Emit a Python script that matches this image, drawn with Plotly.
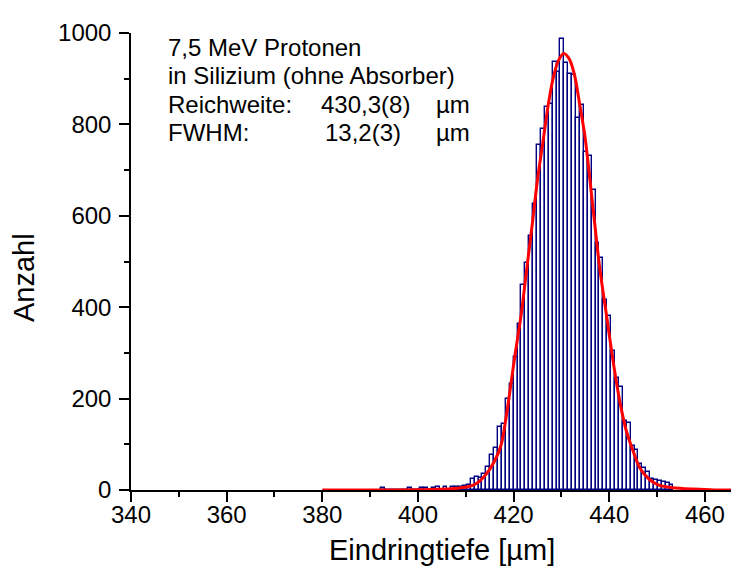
import plotly.graph_objects as go

# ---- histogram data ----
BIN_WIDTH = 0.815          # µm
FIRST_BIN_CENTER = 392.71  # µm
COUNTS = [
    4, 0, 0, 0, 0, 0, 0, 4, 0, 0,
    5, 5, 0, 5, 6, 0, 6, 0, 7, 7,
    6, 8, 10, 23, 29, 27, 35, 51, 77, 93,
    137, 145, 199, 231, 290, 363, 448, 497, 555, 626,
    754, 791, 838, 845, 936, 915, 986, 935, 911, 908,
    815, 842, 739, 730, 657, 540, 508, 416, 380, 305,
    245, 225, 150, 147, 96, 88, 57, 48, 39, 23,
    22, 19, 17, 15, 12,
]
BIN_CENTERS = [round(FIRST_BIN_CENTER + i * BIN_WIDTH, 3) for i in range(len(COUNTS))]

# ---- fit curve ----
FIT_X = [380, 390, 400, 404, 407, 409.8, 411.9, 413.9, 416.0, 417.4, 418.8,
         420.2, 421.6, 422.6, 424.0, 425.0, 426.1, 427.2, 428.2, 429.3, 430.5,
         431.7, 432.8, 433.8, 434.9, 436.6, 438.0, 439.4, 440.8, 442.2, 443.6,
         445.0, 446.4, 448.4, 450.5, 453.3, 457.5, 462, 470]
FIT_Y = [0, 0, 0.5, 1.5, 3, 6, 12, 30, 63, 99, 185,
         289, 385, 471, 590, 680, 759, 840, 898, 938, 955,
         942, 905, 845, 775, 617, 486, 384, 282, 194, 128,
         85, 48, 23, 10, 5, 2, 0, 0]

X_TICKS = [340, 360, 380, 400, 420, 440, 460]
Y_TICKS = [0, 200, 400, 600, 800, 1000]

INFO_LINES = [
    ("7,5 MeV Protonen", None, None),
    ("in Silizium (ohne Absorber)", None, None),
    ("Reichweite:", "430,3(8)", "µm"),
    ("FWHM:", "13,2(3)", "µm"),
]

FONT = "Liberation Sans, Arial, sans-serif"

W, H = 739, 567
ML, MR, MT, MB = 123, 0, 25, 85
PW, PH = W - ML - MR, H - MT - MB


def px_to_paper(xp, yp):
    return (xp - ML) / PW, (H - MB - yp) / PH


fig = go.Figure()
fig.add_trace(go.Bar(
    x=BIN_CENTERS, y=COUNTS, width=BIN_WIDTH,
    marker=dict(color="white", line=dict(color="#000080", width=1.4)),
    showlegend=False, hoverinfo="x+y",
))
fig.add_trace(go.Scatter(
    x=FIT_X, y=FIT_Y, mode="lines",
    line=dict(color="#ff0000", width=3, shape="spline", smoothing=0.8),
    showlegend=False,
))

annotations = []
col_x = [158, 311, 426]
col_x2 = [158, 315, 426]
baselines = [55, 83.3, 111.7, 140]
for i, (a, b, c) in enumerate(INFO_LINES):
    yc = baselines[i] - 8.6 - 7
    xs = col_x if i != 3 else col_x2
    for j, t in enumerate((a, b, c)):
        if t is None:
            continue
        px, py = px_to_paper(xs[j], yc)
        annotations.append(dict(
            text=t, x=px, y=py, xref="paper", yref="paper",
            xanchor="left", yanchor="middle", showarrow=False,
            font=dict(family=FONT, size=24, color="black"),
        ))

# axis titles
tx, ty = px_to_paper(434, 542)
annotations.append(dict(
    text="Eindringtiefe [µm]", x=tx, y=ty, xref="paper", yref="paper",
    xanchor="center", yanchor="middle", showarrow=False,
    font=dict(family=FONT, size=29, color="black"),
))
ax_, ay_ = px_to_paper(16, 270)
annotations.append(dict(
    text="Anzahl", x=ax_, y=ay_, xref="paper", yref="paper",
    xanchor="center", yanchor="middle", showarrow=False, textangle=-90,
    font=dict(family=FONT, size=29, color="black"),
))

fig.update_layout(
    width=W, height=H,
    margin=dict(l=ML, r=MR, t=MT, b=MB, pad=0),
    paper_bgcolor="white", plot_bgcolor="white",
    bargap=0,
    annotations=annotations,
    font=dict(family=FONT, size=24, color="black"),
    xaxis=dict(
        range=[340, 468.8], tickmode="array", tickvals=X_TICKS,
        ticktext=[str(v) for v in X_TICKS],
        ticks="outside", ticklen=10, tickwidth=1.5, tickcolor="black",
        ticklabelstandoff=-8,
        minor=dict(tickmode="linear", tick0=340, dtick=10, ticks="outside",
                   ticklen=5, tickwidth=1.5, tickcolor="black", showgrid=False),
        showline=True, linecolor="black", linewidth=1.5,
        showgrid=False, zeroline=False, mirror=False,
        tickfont=dict(family=FONT, size=24, color="black"),
    ),
    yaxis=dict(
        range=[0, 1000], tickmode="array", tickvals=Y_TICKS,
        ticktext=[str(v) for v in Y_TICKS],
        ticks="outside", ticklen=10, tickwidth=1.5, tickcolor="black",
        ticklabelstandoff=3,
        minor=dict(tickmode="linear", tick0=0, dtick=100, ticks="outside",
                   ticklen=5, tickwidth=1.5, tickcolor="black", showgrid=False),
        showline=True, linecolor="black", linewidth=1.5,
        showgrid=False, zeroline=False, mirror=False,
        tickfont=dict(family=FONT, size=24, color="black"),
    ),
)

fig.write_html("out.html")
